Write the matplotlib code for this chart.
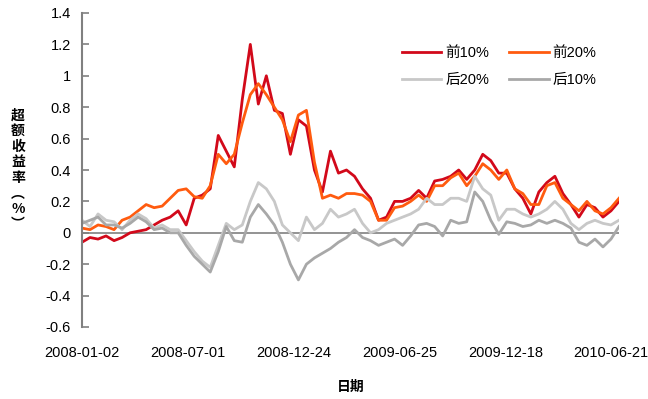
import numpy as np
import matplotlib.pyplot as plt

plt.rcParams['font.family'] = ['Liberation Sans', 'Noto Sans CJK SC', 'DejaVu Sans']

# tick labels on the category axis (trading days, one label every 120 days)
tick_labels = ['2008-01-02', '2008-07-01', '2008-12-24', '2009-06-25', '2009-12-18', '2010-06-21']
tick_days = [0, 120, 240, 360, 480, 600]
last_day = 609

series_names = ['前10%', '前20%', '后20%', '后10%']

# excess return (%), evenly spaced over the trading days
top10 = [-0.06, -0.03, -0.04, -0.02, -0.05, -0.03, 0.00, 0.01, 0.02, 0.05,
         0.08, 0.10, 0.14, 0.05, 0.22, 0.24, 0.28, 0.62, 0.52, 0.42,
         0.85, 1.20, 0.82, 1.00, 0.78, 0.76, 0.50, 0.72, 0.68, 0.40,
         0.26, 0.52, 0.38, 0.40, 0.36, 0.28, 0.22, 0.08, 0.10, 0.20,
         0.20, 0.22, 0.27, 0.22, 0.33, 0.34, 0.36, 0.40, 0.34, 0.40,
         0.50, 0.46, 0.38, 0.38, 0.28, 0.22, 0.12, 0.26, 0.32, 0.36,
         0.25, 0.18, 0.10, 0.18, 0.16, 0.10, 0.14, 0.20]
top20 = [0.03, 0.02, 0.05, 0.04, 0.02, 0.08, 0.10, 0.14, 0.18, 0.16,
         0.17, 0.22, 0.27, 0.28, 0.23, 0.22, 0.30, 0.50, 0.44, 0.50,
         0.70, 0.88, 0.95, 0.88, 0.80, 0.72, 0.58, 0.75, 0.78, 0.45,
         0.22, 0.24, 0.22, 0.25, 0.25, 0.24, 0.20, 0.08, 0.08, 0.16,
         0.17, 0.20, 0.24, 0.20, 0.30, 0.30, 0.35, 0.38, 0.30, 0.36,
         0.44, 0.40, 0.34, 0.40, 0.28, 0.25, 0.18, 0.18, 0.30, 0.32,
         0.22, 0.18, 0.14, 0.20, 0.14, 0.12, 0.16, 0.22]
bottom20 = [0.08, 0.04, 0.12, 0.08, 0.07, 0.02, 0.08, 0.12, 0.09, 0.03,
            0.05, 0.02, 0.02, -0.05, -0.12, -0.18, -0.22, -0.08, 0.06, 0.02,
            0.05, 0.20, 0.32, 0.28, 0.20, 0.05, 0.00, -0.05, 0.10, 0.02,
            0.06, 0.15, 0.10, 0.12, 0.15, 0.06, 0.00, 0.02, 0.06, 0.08,
            0.10, 0.12, 0.15, 0.22, 0.18, 0.18, 0.22, 0.22, 0.20, 0.36,
            0.28, 0.24, 0.08, 0.15, 0.15, 0.12, 0.10, 0.12, 0.15, 0.20,
            0.15, 0.06, 0.02, 0.06, 0.08, 0.06, 0.05, 0.08]
bottom10 = [0.06, 0.08, 0.10, 0.05, 0.05, 0.03, 0.06, 0.10, 0.07, 0.02,
            0.03, 0.00, 0.00, -0.08, -0.15, -0.20, -0.25, -0.12, 0.04, -0.05,
            -0.06, 0.10, 0.18, 0.12, 0.05, -0.06, -0.20, -0.30, -0.20, -0.16,
            -0.13, -0.10, -0.06, -0.03, 0.02, -0.03, -0.05, -0.08, -0.06, -0.04,
            -0.08, -0.02, 0.05, 0.06, 0.04, -0.02, 0.08, 0.06, 0.07, 0.26,
            0.20, 0.08, -0.01, 0.07, 0.06, 0.04, 0.05, 0.08, 0.06, 0.08,
            0.06, 0.03, -0.06, -0.08, -0.04, -0.09, -0.04, 0.04]

colors = ['#D2091A', '#FF5B0F', '#C8C8C8', '#A8A8A8']

fig = plt.figure(figsize=(6.48, 3.99), dpi=100)
ax = fig.add_axes([82/648, 1 - 327/399, (619 - 82)/648, (327 - 13)/399])

days = np.linspace(0, last_day, len(top10))
lines = []
for vals, name, c in zip([top10, top20, bottom20, bottom10], series_names, colors):
    ln, = ax.plot(days, vals, color=c, lw=2.0, label=name)
    lines.append(ln)

# zero line acts as the category axis
ax.axhline(0, color='#808080', lw=1.2, zorder=0)

ax.set_xlim(0, last_day)
ax.set_ylim(-0.6, 1.4)
ax.set_yticks(np.arange(-0.6, 1.41, 0.2))
ax.set_yticklabels(['-0.6', '-0.4', '-0.2', '0', '0.2', '0.4', '0.6', '0.8', '1', '1.2', '1.4'])
ax.set_xticks(tick_days)
ax.set_xticklabels(tick_labels)

for s in ['top', 'right', 'bottom']:
    ax.spines[s].set_visible(False)
ax.spines['left'].set_color('#808080')
ax.spines['left'].set_linewidth(1.5)
ax.tick_params(axis='y', direction='in', length=5, color='#808080', width=1.2, labelsize=10.5, pad=8)
ax.tick_params(axis='x', length=0, labelsize=10.5, pad=14)

ax.set_xlabel('日期', fontsize=10, fontweight='bold', labelpad=14)

ylab = '\n'.join(['超', '额', '收', '益', '率', '︵', '%', '︶'])
fig.text(18/648, 1 - 170/399, ylab, ha='center', va='center', fontsize=10,
         fontweight='bold', linespacing=1.15, family=['Noto Sans CJK SC', 'DejaVu Sans'])

# legend rows: 前10% 前20% / 后20% 后10%  (matplotlib fills by column)
order = [0, 2, 1, 3]
ax.legend([lines[i] for i in order], [series_names[i] for i in order],
          loc='upper left', bbox_to_anchor=(402/648, 1 - 46/399), bbox_transform=fig.transFigure,
          ncol=2, frameon=False, fontsize=10.5, handlelength=2.7, handletextpad=0.25,
          columnspacing=1.4, labelspacing=0.9, borderpad=0, borderaxespad=0)

fig.savefig('out.png', dpi=100)
